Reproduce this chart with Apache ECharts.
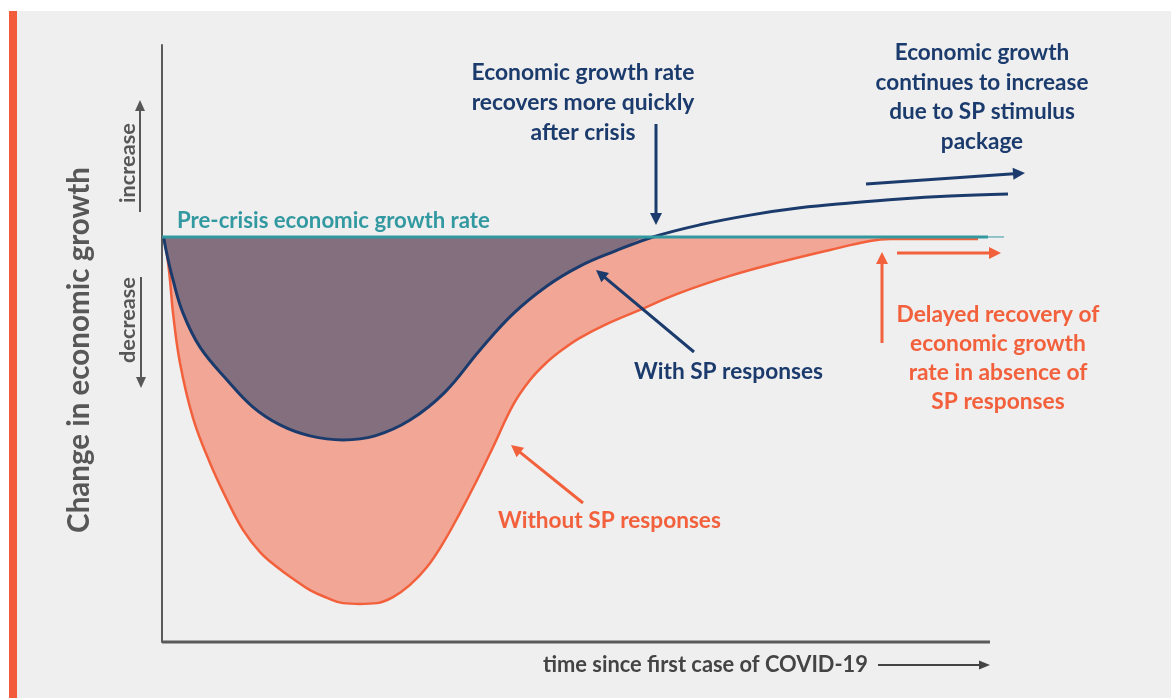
<!DOCTYPE html>
<html>
<head>
<meta charset="utf-8">
<script src="https://cdn.jsdelivr.net/npm/echarts@6/dist/echarts.min.js"></script>
<style>
  html, body { margin:0; padding:0; width:1171px; height:698px; background:#ffffff; overflow:hidden; }
  #bg { position:absolute; left:17px; top:11px; right:0; bottom:0; background:#efefef; }
  #bar { position:absolute; left:9px; top:11px; width:8px; bottom:0; background:#f25c3b; }
  #chart { position:absolute; left:0; top:0; width:1171px; height:698px; }
</style>
</head>
<body>
<div id="bg"></div>
<div id="bar"></div>
<div id="chart"></div>
<script>
// ---- data (time units since first case, change in growth) ----
const withSpX = [0.2, 0.47, 1.30, 2.48, 4.48, 7.67, 10.73, 13.92, 17.45, 21.34, 25.12, 29.25, 33.37, 37.50, 41.39, 45.40, 49.29, 53.42, 57.90, 63.44, 69.34, 75.24, 81.13, 87.03, 92.92, 99.76];
const withSpY = [0, -3.2, -10.6, -18.8, -27.2, -35.3, -42.0, -46.4, -49.1, -50.1, -49.1, -45.2, -38.3, -27.9, -19.0, -12.1, -7.2, -3.5, 0, 3.0, 5.4, 7.2, 8.4, 9.4, 10.1, 10.6];
const withoutSpX = [0.2, 0.59, 0.94, 1.30, 2.12, 3.66, 5.66, 7.67, 9.55, 11.56, 13.56, 15.45, 17.45, 19.46, 21.34, 23.35, 25.35, 27.24, 29.25, 31.25, 33.14, 35.14, 37.15, 39.03, 41.39, 43.40, 45.40, 47.29, 49.29, 52.24, 56.01, 61.08, 66.98, 72.88, 78.77, 83.49, 85.85, 96.23];
const withoutSpY = [0, -4.4, -10.6, -18.8, -31.1, -44.7, -55.8, -64.9, -72.3, -77.8, -81.5, -84.4, -87.2, -89.1, -90.4, -90.6, -90.4, -88.9, -85.9, -81.5, -75.6, -68.1, -60.0, -51.9, -41.5, -35.3, -30.9, -27.7, -24.9, -21.7, -18.3, -13.8, -9.6, -6.2, -3.2, -1.0, -0.5, -0.5];
const preCrisisX = [0, 97.4];
const preCrisisY = [0, 0];
const preCrisisTailX = [97.4, 99.3];
const timeAxisX = [0, 97.64];
const timeAxisY = [-100, -100];

const yTitle = 'Change in economic growth';
const xTitle = 'time since first case of COVID-19';
const upLabel = 'increase';
const downLabel = 'decrease';
const preCrisisLabel = 'Pre-crisis economic growth rate';
const withLabel = 'With SP responses';
const withoutLabel = 'Without SP responses';
const recoverNote = ['Economic growth rate', 'recovers more quickly', 'after crisis'];
const stimulusNote = ['Economic growth', 'continues to increase', 'due to SP stimulus', 'package'];
const delayedNote = ['Delayed recovery of', 'economic growth', 'rate in absence of', 'SP responses'];

// ---- styles ----
const NAVY = '#1c3b6d', ORANGE = '#f2603c', TEAL = '#3399a1', GRAY = '#575757', PURPLE = '#846f7f', SALMON = '#f1a696';
const FAM = 'Lato, "Open Sans", sans-serif';
const SMOOTH = 0.4;

const zip = (xs, ys) => xs.map((x, i) => [x, ys[i]]);
const mctx = document.createElement('canvas').getContext('2d');
function fitSize(text, w) { mctx.font = 'bold 100px ' + FAM; return 100 * w / mctx.measureText(text).width; }
function widest(lines) { mctx.font = 'bold 100px ' + FAM; let b = lines[0], bw = 0; lines.forEach(l => { const w = mctx.measureText(l).width; if (w > bw) { bw = w; b = l; } }); return b; }

const graphics = [];
function txt(text, x, y, size, color, align, rot) {
  graphics.push({ type: 'text', x: x, y: y, rotation: rot || 0, z: 50,
    style: { text: text, font: 'bold ' + size.toFixed(2) + 'px ' + FAM, fill: color, align: align || 'center', verticalAlign: 'middle' } });
}
function block(lines, cx, ys, width, color) {
  const s = fitSize(widest(lines), width);
  lines.forEach((l, i) => txt(l, cx, ys[i], s, color, 'center'));
}
function arrow(x1, y1, x2, y2, color, lw, hl, hw) {
  const dx = x2 - x1, dy = y2 - y1, L = Math.hypot(dx, dy), ux = dx / L, uy = dy / L;
  const bx = x2 - ux * hl, by = y2 - uy * hl;
  graphics.push({ type: 'line', z: 50, shape: { x1: x1, y1: y1, x2: bx + ux * 1, y2: by + uy * 1 }, style: { stroke: color, lineWidth: lw } });
  graphics.push({ type: 'polygon', z: 50, shape: { points: [[x2, y2], [bx - uy * hw, by + ux * hw], [bx + uy * hw, by - ux * hw]] }, style: { fill: color } });
}

// texts
txt(yTitle, 79, 350, fitSize(yTitle, 366), GRAY, 'center', Math.PI / 2);
txt(upLabel, 128, 163, fitSize(upLabel, 80), GRAY, 'center', Math.PI / 2);
txt(downLabel, 128, 320, fitSize(downLabel, 86), GRAY, 'center', Math.PI / 2);
txt(preCrisisLabel, 177, 221, fitSize(preCrisisLabel, 313), TEAL, 'left');
txt(withLabel, 634, 372, fitSize(withLabel, 189), NAVY, 'left');
txt(withoutLabel, 498, 521, fitSize(withoutLabel, 223), ORANGE, 'left');
txt(xTitle, 543, 665, fitSize(xTitle, 325), '#444444', 'left');
block(recoverNote, 583, [73, 103, 133], 223, NAVY);
block(stimulusNote, 982, [53, 83, 112, 142], 213, NAVY);
block(delayedNote, 998, [315, 344, 373, 402], 203, ORANGE);

// arrows
arrow(140, 212, 140, 100, GRAY, 2, 11, 5);
arrow(141, 277, 141, 388, GRAY, 2, 11, 5);
arrow(656, 124, 656, 225, NAVY, 3, 12, 6);
arrow(866, 184, 1025, 173, NAVY, 3, 12, 6);
arrow(694, 352, 596, 270, NAVY, 3, 12, 6);
arrow(583, 503, 511, 445, ORANGE, 3, 12, 6);
arrow(882, 343, 882, 252, ORANGE, 3, 12, 6);
arrow(897, 253, 1001, 253, ORANGE, 3, 12, 6);
arrow(878, 665, 990, 665, '#444444', 2, 11, 4.5);

const chart = echarts.init(document.getElementById('chart'), null, { renderer: 'canvas' });
chart.setOption({
  animation: false,
  backgroundColor: 'transparent',
  grid: { left: 162, right: 161, top: 45, bottom: 56, containLabel: false },
  xAxis: { type: 'value', min: 0, max: 100, axisLine: { show: false },
    axisTick: { show: false }, axisLabel: { show: false }, splitLine: { show: false } },
  yAxis: { type: 'value', min: -100, max: 47.4, axisLine: { show: true, onZero: false, lineStyle: { color: '#5a5a5a', width: 2 } },
    axisTick: { show: false }, axisLabel: { show: false }, splitLine: { show: false } },
  series: [
    { name: 'Time axis', type: 'line', data: zip(timeAxisX, timeAxisY), showSymbol: false, clip: false, z: 6, silent: true,
      lineStyle: { color: '#5a5a5a', width: 3 } },
    { name: 'Without SP responses', type: 'line', data: zip(withoutSpX, withoutSpY), smooth: SMOOTH, showSymbol: false,
      clip: false, z: 2, lineStyle: { color: ORANGE, width: 2.5 }, areaStyle: { color: SALMON, opacity: 1 } },
    { name: 'With SP fill', type: 'line', data: zip(withSpX, withSpY.map(v => Math.min(v, 0))), smooth: SMOOTH, showSymbol: false,
      clip: false, z: 3, lineStyle: { width: 0, color: PURPLE }, areaStyle: { color: PURPLE, opacity: 1 } },
    { name: 'With SP responses', type: 'line', data: zip(withSpX, withSpY), smooth: SMOOTH, showSymbol: false,
      clip: false, z: 4, lineStyle: { color: NAVY, width: 3 } },
    { name: 'Pre-crisis', type: 'line', data: zip(preCrisisX, preCrisisY), showSymbol: false, clip: false, z: 5,
      lineStyle: { color: TEAL, width: 3 } },
    { name: 'Pre-crisis tail', type: 'line', data: zip(preCrisisTailX, preCrisisY), showSymbol: false, clip: false, z: 5,
      lineStyle: { color: TEAL, width: 1 } }
  ],
  graphic: graphics
});
</script>
</body>
</html>
